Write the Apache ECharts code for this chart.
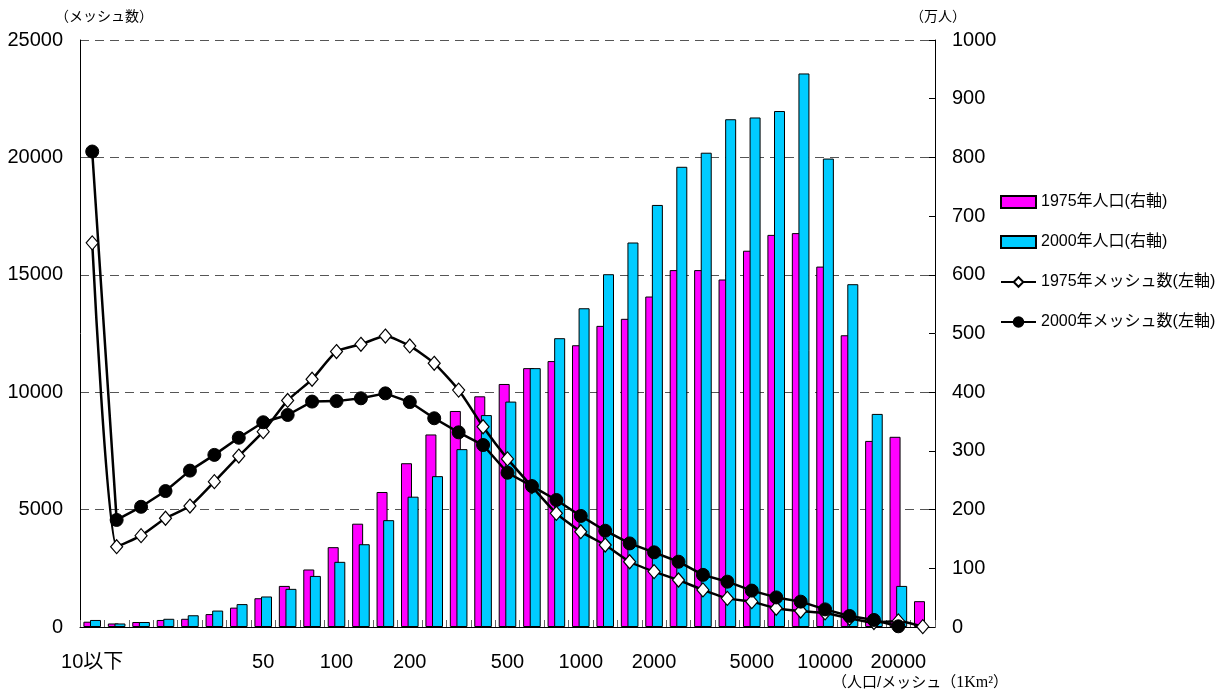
<!DOCTYPE html>
<html>
<head>
<meta charset="utf-8">
<script src="https://cdn.jsdelivr.net/npm/echarts@6/dist/echarts.min.js"></script>
<style>
html, body { margin: 0; padding: 0; background: #fff; }
#main { width: 1216px; height: 696px; }
</style>
</head>
<body>
<div id="main"></div>
<script>
// 人口/メッシュ の階級 (対数 10分割)
var categories = ["10以下","","","","","","","50","","","100","","","200","","","","500","","","1000","","","2000","","","","5000","","","10000","","","20000",""];

// 人口 (万人, 右軸)
var pop1975 = [9,6,8.5,12,14,22,33,49,70,98,136,176,230,279,328,368,393,414,441,453,480,513,525,563,608,608,592,641,668,671,614,497,317,324,44];
var pop2000 = [12,6,8.5,14,20,28,39,52,65,87,111,141,182,222,257,303,361,384,441,492,543,601,655,719,784,808,865,868,879,943,798,584,363,70,null];

// メッシュ数 (左軸)
var mesh1975 = [16360,3420,3890,4630,5150,6190,7280,8320,9650,10550,11730,12040,12390,11970,11230,10090,8530,7160,5980,4840,4060,3490,2780,2360,2000,1580,1220,1080,800,680,600,370,190,260,15];
var mesh2000 = [20250,4560,5120,5790,6660,7330,8060,8720,9030,9600,9620,9740,9950,9580,8890,8290,7750,6570,6000,5410,4730,4100,3560,3180,2780,2220,1930,1550,1260,1080,750,470,300,30,null];

var leftTicks = [0, 25000, 5000];
var rightTicks = [0, 1000, 100];

var FONT = "'Liberation Sans', 'Noto Sans CJK JP', sans-serif";

var chart = echarts.init(document.getElementById("main"));

var plain = function(v){ return String(v); };

var option = {
	animation: false,
	backgroundColor: "#fff",
	textStyle: { fontFamily: FONT, color: "#000" },
	grid: { left: 80, right: 281, top: 40, bottom: 69, containLabel: false, outerBoundsMode: "none" },
	legend: {
		orient: "vertical",
		left: 995,
		top: 189,
		itemGap: 24,
		itemWidth: 35,
		itemHeight: 12,
		textStyle: { fontSize: 16, color: "#000", fontFamily: FONT },
		data: [
			{ name: "1975年人口(右軸)", icon: "rect" },
			{ name: "2000年人口(右軸)", icon: "rect" },
			{ name: "1975年メッシュ数(左軸)" },
			{ name: "2000年メッシュ数(左軸)" }
		]
	},
	xAxis: {
		type: "category",
		data: categories,
		boundaryGap: true,
		axisLine: { lineStyle: { color: "#000", width: 1 } },
		axisTick: { show: true, inside: true, length: 7, interval: 0, lineStyle: { color: "#666" } },
		axisLabel: { interval: 0, margin: 25, fontSize: 20, color: "#000", fontFamily: FONT },
		splitLine: { show: false }
	},
	yAxis: [
		{
			type: "value",
			min: leftTicks[0],
			max: leftTicks[1],
			interval: leftTicks[2],
			axisLine: { show: true, lineStyle: { color: "#000", width: 1 } },
			axisTick: { show: false },
			axisLabel: { margin: 17, fontSize: 20, color: "#000", fontFamily: FONT, formatter: plain },
			splitLine: { show: true, lineStyle: { color: "#555", type: [9, 6], width: 1 } }
		},
		{
			type: "value",
			position: "right",
			min: rightTicks[0],
			max: rightTicks[1],
			interval: rightTicks[2],
			axisLine: { show: true, lineStyle: { color: "#000", width: 1 } },
			axisTick: { show: true, inside: true, length: 6, lineStyle: { color: "#000" } },
			axisLabel: { margin: 17, fontSize: 20, color: "#000", fontFamily: FONT, formatter: plain },
			splitLine: { show: false }
		}
	],
	series: [
		{
			name: "1975年人口(右軸)",
			type: "bar",
			yAxisIndex: 1,
			data: pop1975,
			barWidth: 11,
			barGap: "-40%",
			itemStyle: { color: "#FF00FF", borderColor: "#000", borderWidth: 1 }
		},
		{
			name: "2000年人口(右軸)",
			type: "bar",
			yAxisIndex: 1,
			data: pop2000,
			barWidth: 11,
			barGap: "-40%",
			itemStyle: { color: "#00CCFF", borderColor: "#000", borderWidth: 1 }
		},
		{
			name: "1975年メッシュ数(左軸)",
			type: "line",
			yAxisIndex: 0,
			data: mesh1975,
			smooth: 0.2,
			symbol: "diamond",
			symbolSize: [12, 14],
			lineStyle: { color: "#000", width: 2.5 },
			itemStyle: { color: "#fff", borderColor: "#000", borderWidth: 1.2 }
		},
		{
			name: "2000年メッシュ数(左軸)",
			type: "line",
			yAxisIndex: 0,
			data: mesh2000,
			symbol: "circle",
			symbolSize: 13,
			lineStyle: { color: "#000", width: 2.5 },
			itemStyle: { color: "#000", borderColor: "#000", borderWidth: 1 }
		}
	],
	graphic: [
		{ type: "text", left: 55, top: 10, style: { text: "（メッシュ数）", fontSize: 14, fill: "#000", fontFamily: FONT } },
		{ type: "text", left: 910, top: 10, style: { text: "（万人）", fontSize: 14, fill: "#000", fontFamily: FONT } },
		{ type: "text", left: 832, top: 675, style: {
			text: "{a|（人口/メッシュ（}{b|1Km²}{a|）}",
			rich: {
				a: { fontSize: 15, fill: "#000", fontFamily: FONT },
				b: { fontSize: 16, fill: "#000", fontFamily: "'Liberation Serif', serif" }
			}
		} }
	]
};

chart.setOption(option);
</script>
</body>
</html>
